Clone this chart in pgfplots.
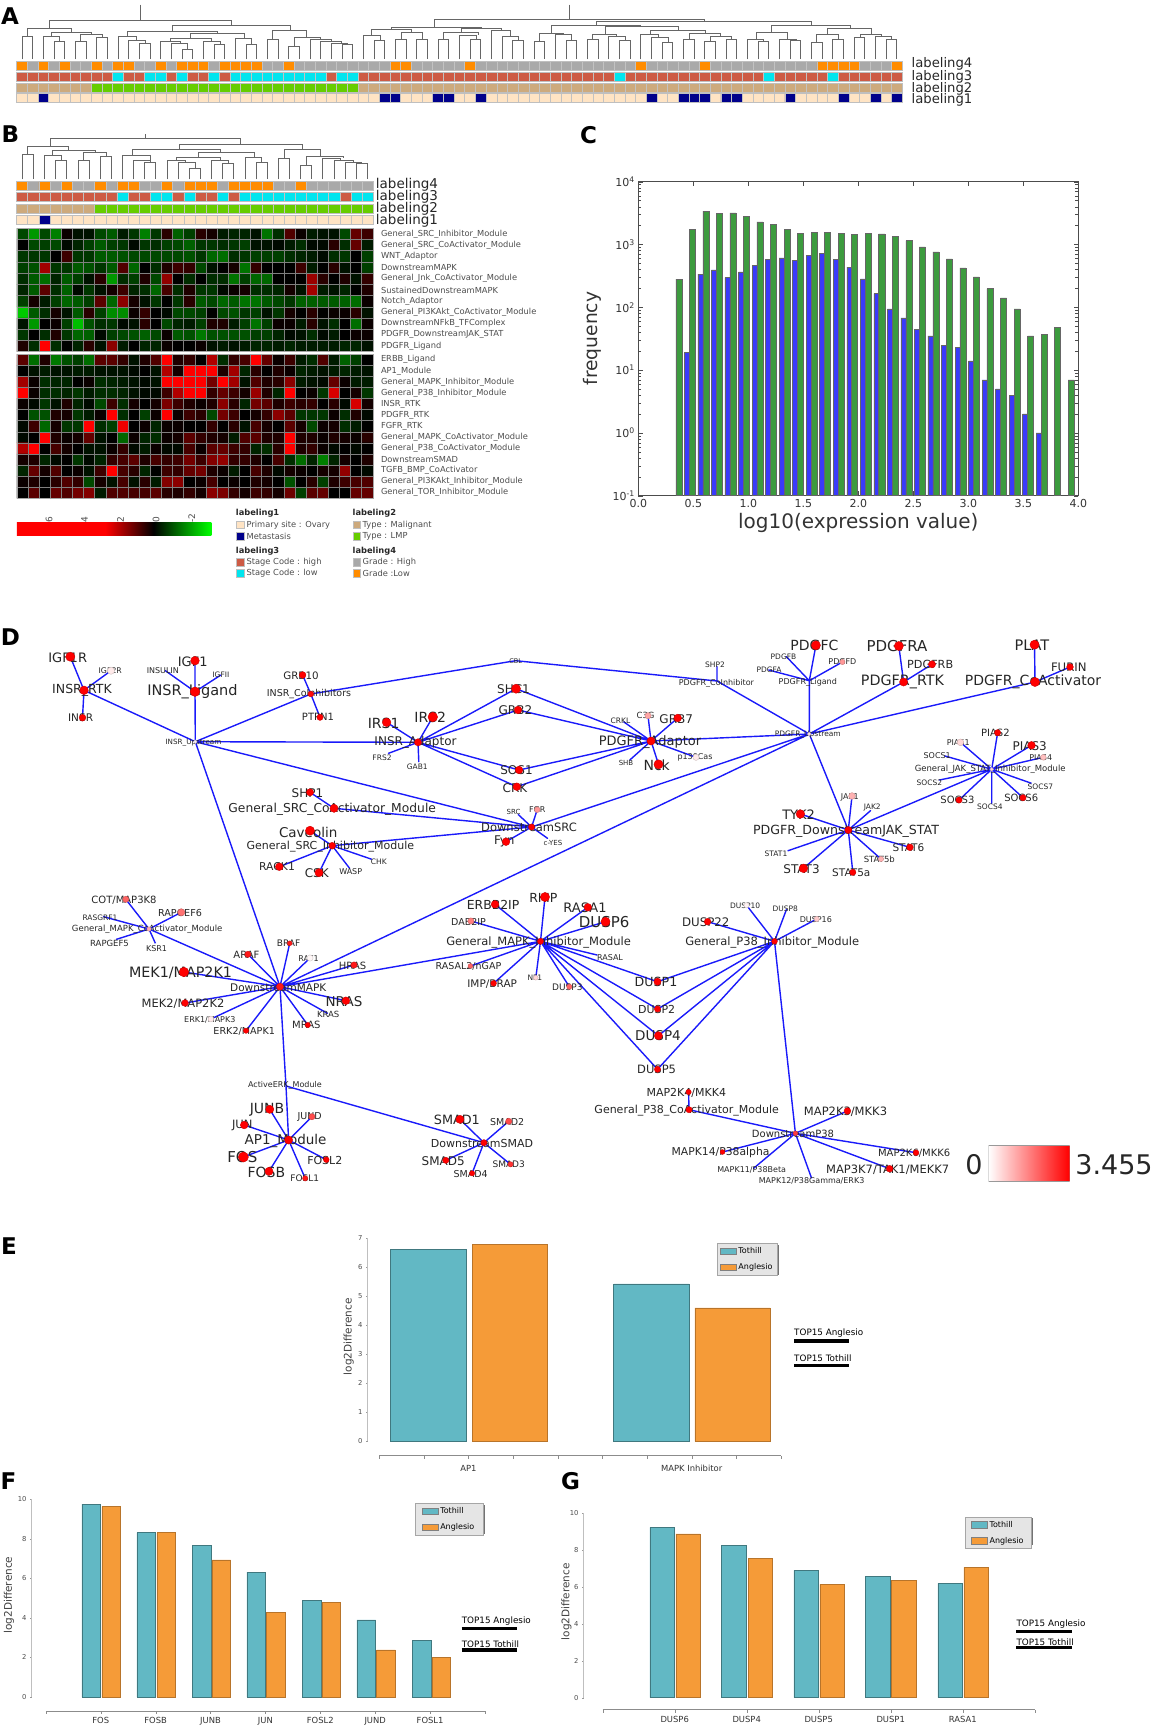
\documentclass[border=0pt]{standalone}
\usepackage{pgfplots}
\pgfplotsset{compat=1.18}
\usepackage{fontspec}
\setmainfont{DejaVu Sans}

\definecolor{cOrange}{RGB}{255,140,0}
\definecolor{cGrey}{RGB}{169,169,169}
\definecolor{cHigh}{RGB}{205,91,69}
\definecolor{cCyan}{RGB}{0,229,238}
\definecolor{cTan}{RGB}{205,170,125}
\definecolor{cGreen}{RGB}{102,205,0}
\definecolor{cBeige}{RGB}{255,228,196}
\definecolor{cNavy}{RGB}{0,0,139}
\definecolor{cTeal}{RGB}{98,184,196}
\definecolor{cAmber}{RGB}{245,155,56}
\definecolor{cBarG}{RGB}{60,155,62}
\definecolor{cBarB}{RGB}{58,58,250}
\definecolor{cEdge}{RGB}{26,26,250}

% a shading's middle 25bp-75bp is what lands on the path
\pgfdeclarehorizontalshading{heatbar}{100bp}{color(0bp)=(red); color(47.75bp)=(red); color(60.15bp)=(black); color(75bp)=(green); color(100bp)=(green)}

\newcommand{\lab}[4]{\node[font=\fontsize{#3}{#3}\selectfont,inner sep=0pt,text=black!85] at (axis cs:#1,#2) {#4};}
\newcommand{\letter}[3]{\node[font=\fontsize{23}{23}\selectfont\bfseries,inner sep=0pt] at (axis cs:#1,#2) {#3};}

\pgfplotsset{
  fullpage/.style={scale only axis,width=1158pt,height=1728pt,at={(0pt,0pt)},anchor=south west,
    hide axis,clip=false,y dir=reverse},
  catrow/.style={scale only axis,anchor=north west,axis on top,enlargelimits=false,
    xticklabels={},ytick=\empty,ymin=0,ymax=1,xmajorgrids,major tick length=0pt,
    major grid style={black!24,line width=.7pt},axis line style={black!25,line width=.8pt}},
  row83/.style={catrow,width=885.6pt,xmin=-.5,xmax=82.5,xtick={-.5,.5,...,82.5}},
  row32/.style={catrow,width=356.6pt,xmin=-.5,xmax=31.5,xtick={-.5,.5,...,31.5}},
  cell/.style={ybar,bar width=1,bar shift=0pt,draw=none,fill=#1},
  heat/.style={scale only axis,anchor=north west,axis on top,enlargelimits=false,width=356pt,
    xmin=-.5,xmax=31.5,y dir=reverse,xtick={-.5,.5,...,31.5},xticklabels={},xmajorgrids,yminorgrids,
    major tick length=0pt,minor tick length=0pt,
    major grid style={black!50,line width=.55pt},minor grid style={black!50,line width=.55pt},
    axis line style={black!35,line width=.6pt},yticklabel pos=right,
    yticklabel style={font=\fontsize{8.3}{8.3}\selectfont,text=black!70,inner sep=0pt,xshift=8pt,anchor=west},
    colormap={redgreen}{rgb255(0cm)=(0,215,0); rgb255(2cm)=(0,90,0); rgb255(3cm)=(0,0,0); rgb255(4cm)=(100,0,0); rgb255(6cm)=(255,0,0)},
    point meta min=-30,point meta max=30},
  heatcells/.style={matrix plot*,mesh/cols=32,point meta=explicit},
  barpanel/.style={scale only axis,anchor=south west,axis y line=left,hide x axis,axis line style={-,black!25},
    enlargelimits=false,ymin=0,tick style={black!40},tick label style={font=\fontsize{6.8}{6.8}\selectfont,text=black!70},
    /pgf/number format/assume math mode=true,major tick length=2pt,
    every axis y label/.style={rotate=90,anchor=center,font=\fontsize{10.5}{10.5}\selectfont,text=black!75},
    legend cell align=left,
    legend style={font=\fontsize{8}{8}\selectfont,fill=black!10,draw=black!35,anchor=north east,inner ysep=2pt,row sep=4.5pt}},
  shadowbox/.style={fill=black!55,draw=none,forget plot},
  tealbar/.style={ybar,bar shift=0pt,fill=cTeal,draw=cTeal!65!black,line width=.6pt,
    legend image code/.code={\draw[fill=cTeal,draw=black!50,line width=.6pt] (0pt,-3.2pt) rectangle (15.5pt,3.2pt);}},
  amberbar/.style={ybar,bar shift=0pt,fill=cAmber,draw=cAmber!75!black,line width=.6pt,
    legend image code/.code={\draw[fill=cAmber,draw=black!50,line width=.6pt] (0pt,-3.2pt) rectangle (15.5pt,3.2pt);}},
  baseline/.style={scale only axis,anchor=south west,height=1pt,hide y axis,axis x line=bottom,axis line style={-,black!45,line width=1pt},
    enlargelimits=false,tick style={black!45},xtick align=outside,major tick length=3pt,ymin=0,ymax=1,
    tick label style={font=\fontsize{8.4}{8.4}\selectfont,text=black!80}},
}

\begin{document}
\begin{tikzpicture}
\useasboundingbox (0pt,0pt) rectangle (1158pt,1728pt);

% --- A: colour bars (83 samples)
\begin{axis}[row83,at={(16.7pt,1666.7pt)},height=8.7pt]
\addplot[fill=cGrey,draw=none] coordinates {(-.5,0)(-.5,1)(82.5,1)(82.5,0)} --cycle;
\addplot[cell=cOrange] coordinates {(0,1)(2,1)(4,1)(7,1)(9,1)(10,1)(13,1)(15,1)(16,1)(17,1)(19,1)(20,1)(21,1)(22,1)(25,1)(35,1)(36,1)(42,1)(58,1)(64,1)(75,1)(76,1)(77,1)(78,1)(82,1)};
\end{axis}
\begin{axis}[row83,at={(16.7pt,1656pt)},height=9pt]
\addplot[fill=cHigh,draw=none] coordinates {(-.5,0)(-.5,1)(82.5,1)(82.5,0)} --cycle;
\addplot[cell=cCyan] coordinates {(9,1)(12,1)(13,1)(15,1)(18,1)(20,1)(21,1)(22,1)(23,1)(24,1)(25,1)(26,1)(27,1)(28,1)(30,1)(31,1)(56,1)(70,1)(76,1)};
\end{axis}
\begin{axis}[row83,at={(16.7pt,1645pt)},height=9pt]
\addplot[fill=cTan,draw=none] coordinates {(-.5,0)(-.5,1)(82.5,1)(82.5,0)} --cycle;
\addplot[fill=cGreen,draw=none] coordinates {(6.5,0)(6.5,1)(31.5,1)(31.5,0)} --cycle;
\end{axis}
\begin{axis}[row83,at={(16.7pt,1634.3pt)},height=9pt]
\addplot[fill=cBeige,draw=none] coordinates {(-.5,0)(-.5,1)(82.5,1)(82.5,0)} --cycle;
\addplot[cell=cNavy] coordinates {(2,1)(34,1)(35,1)(39,1)(40,1)(43,1)(59,1)(62,1)(63,1)(64,1)(66,1)(67,1)(72,1)(77,1)(80,1)(82,1)};
\end{axis}

% --- B: colour bars (32 samples)
\begin{axis}[row32,at={(16.7pt,1546.7pt)},height=9.2pt]
\addplot[fill=cGrey,draw=none] coordinates {(-.5,0)(-.5,1)(31.5,1)(31.5,0)} --cycle;
\addplot[cell=cOrange] coordinates {(0,1)(2,1)(4,1)(7,1)(9,1)(10,1)(13,1)(15,1)(16,1)(17,1)(19,1)(20,1)(21,1)(22,1)(25,1)};
\end{axis}
\begin{axis}[row32,at={(16.7pt,1535.3pt)},height=9.2pt]
\addplot[fill=cHigh,draw=none] coordinates {(-.5,0)(-.5,1)(31.5,1)(31.5,0)} --cycle;
\addplot[cell=cCyan] coordinates {(9,1)(12,1)(13,1)(15,1)(18,1)(20,1)(21,1)(22,1)(23,1)(24,1)(25,1)(26,1)(27,1)(28,1)(30,1)(31,1)};
\end{axis}
\begin{axis}[row32,at={(16.7pt,1524pt)},height=9pt]
\addplot[fill=cGreen,draw=none] coordinates {(-.5,0)(-.5,1)(31.5,1)(31.5,0)} --cycle;
\addplot[fill=cTan,draw=none] coordinates {(-.5,0)(-.5,1)(6.5,1)(6.5,0)} --cycle;
\end{axis}
\begin{axis}[row32,at={(16.7pt,1512.7pt)},height=9pt]
\addplot[fill=cBeige,draw=none] coordinates {(-.5,0)(-.5,1)(31.5,1)(31.5,0)} --cycle;
\addplot[cell=cNavy] coordinates {(2,1)};
\end{axis}

% --- B: heat map, colour level in tenths, read row by row
\begin{axis}[heat,at={(16.8pt,1499.7pt)},height=123.4pt,ymin=-.5,ymax=10.5,
  ytick={0,...,10},minor ytick={-.5,.5,...,10.5},
  yticklabels={General\_SRC\_Inhibitor\_Module,General\_SRC\_CoActivator\_Module,WNT\_Adaptor,DownstreamMAPK,General\_Jnk\_CoActivator\_Module,SustainedDownstreamMAPK,Notch\_Adaptor,General\_PI3KAkt\_CoActivator\_Module,DownstreamNFkB\_TFComplex,PDGFR\_DownstreamJAK\_STAT,PDGFR\_Ligand}]
\addplot[heatcells] table[header=false,row sep=\\,meta index=0,x expr={\coordindex-32*floor((\coordindex+.5)/32)},y expr={floor((\coordindex+.5)/32)}] {
-8\\-20\\-8\\-16\\1\\-2\\-2\\-8\\-10\\-3\\-6\\-16\\-6\\4\\-11\\-7\\4\\2\\-3\\-4\\-4\\-2\\-14\\-5\\8\\1\\-3\\-2\\-2\\-8\\10\\6\\
0\\-8\\-7\\-8\\-1\\-4\\-7\\-10\\-7\\-6\\-1\\-6\\-5\\-7\\-8\\-11\\-6\\-6\\-5\\-6\\-7\\-2\\-2\\-1\\-3\\-5\\-1\\-1\\4\\-5\\10\\-3\\
-6\\-6\\-6\\0\\6\\-6\\-6\\-10\\-10\\-9\\-8\\-8\\-8\\-8\\-8\\-9\\-6\\-12\\-13\\-5\\-6\\-7\\-7\\-7\\-5\\-4\\-3\\-1\\-5\\-6\\0\\-7\\
-7\\-9\\18\\-6\\-6\\-10\\-9\\-6\\-10\\8\\-12\\0\\-5\\3\\6\\5\\-8\\-2\\0\\2\\-14\\5\\0\\0\\0\\6\\-3\\0\\4\\-2\\0\\-7\\
-5\\-10\\-13\\-4\\-10\\-7\\-2\\4\\-20\\-5\\-7\\3\\-8\\16\\0\\-5\\0\\-5\\-5\\-14\\-7\\-12\\-12\\0\\0\\0\\17\\4\\0\\3\\-2\\5\\
-4\\-10\\9\\-5\\-11\\-1\\-6\\-2\\2\\6\\-4\\-5\\-12\\7\\-5\\3\\-6\\-6\\-1\\1\\2\\-5\\-5\\-4\\2\\-2\\18\\-3\\-2\\-4\\0\\3\\
-7\\2\\-3\\-7\\-12\\-10\\-7\\9\\-12\\15\\2\\-2\\-6\\0\\-6\\4\\-10\\-8\\-12\\-10\\-14\\-14\\-10\\-8\\-6\\-11\\-11\\-10\\-10\\-11\\-13\\1\\
-28\\-10\\-5\\2\\-2\\-10\\4\\-7\\-18\\-18\\1\\5\\0\\-1\\-8\\-8\\-7\\0\\-8\\-9\\-6\\-7\\-2\\-6\\2\\0\\4\\0\\1\\1\\4\\-2\\
-2\\-20\\0\\1\\-7\\-26\\-9\\-5\\-6\\-1\\-2\\4\\0\\-8\\-4\\-3\\-7\\3\\3\\-3\\-7\\-14\\-7\\1\\1\\-3\\4\\-2\\-5\\0\\-13\\1\\
-6\\0\\-5\\3\\-6\\-12\\-11\\-1\\-7\\-8\\-9\\-11\\-8\\1\\-10\\-9\\-15\\-9\\-9\\-9\\-9\\-7\\-7\\-4\\-1\\-2\\-5\\-1\\-3\\0\\1\\1\\
3\\-5\\30\\-5\\0\\-4\\4\\-2\\15\\-3\\0\\-4\\-4\\1\\0\\0\\1\\-2\\-3\\-2\\-3\\-4\\-4\\-3\\-4\\-3\\-3\\-3\\-3\\-4\\-4\\-2\\
};
\end{axis}
\begin{axis}[heat,at={(16.8pt,1373.7pt)},height=144pt,ymin=-.5,ymax=12.5,
  ytick={0,...,12},minor ytick={-.5,.5,...,12.5},
  yticklabels={ERBB\_Ligand,AP1\_Module,General\_MAPK\_Inhibitor\_Module,General\_P38\_Inhibitor\_Module,INSR\_RTK,PDGFR\_RTK,FGFR\_RTK,General\_MAPK\_CoActivator\_Module,General\_P38\_CoActivator\_Module,DownstreamSMAD,TGFB\_BMP\_CoActivator,General\_PI3KAkt\_Inhibitor\_Module,General\_TOR\_Inhibitor\_Module}]
\addplot[heatcells] table[header=false,row sep=\\,meta index=0,x expr={\coordindex-32*floor((\coordindex+.5)/32)},y expr={floor((\coordindex+.5)/32)}] {
9\\-13\\3\\-15\\-9\\-7\\-13\\9\\9\\5\\-2\\3\\8\\30\\3\\5\\0\\20\\-5\\5\\7\\30\\10\\1\\6\\-3\\-5\\8\\-3\\-11\\-7\\0\\
0\\-2\\-3\\-2\\-2\\-3\\-3\\-2\\-2\\-2\\-1\\0\\-2\\20\\2\\30\\30\\30\\3\\18\\-4\\4\\0\\3\\1\\-4\\-3\\-2\\-3\\-4\\-3\\-2\\
18\\1\\-5\\-4\\-4\\0\\1\\-5\\-4\\-3\\-2\\-1\\-2\\30\\30\\30\\30\\12\\30\\18\\-2\\8\\3\\4\\15\\-3\\-2\\-1\\10\\1\\-3\\-3\\
30\\1\\-5\\-5\\-4\\-6\\-3\\-5\\-5\\-4\\-2\\-1\\-1\\6\\20\\30\\30\\5\\10\\6\\2\\17\\3\\-4\\30\\0\\1\\-6\\25\\0\\2\\-6\\
1\\-1\\-6\\-2\\3\\-4\\-1\\-8\\6\\-5\\2\\0\\2\\13\\6\\3\\1\\3\\15\\4\\-4\\12\\9\\3\\6\\4\\5\\0\\4\\-1\\25\\2\\
0\\-9\\-9\\3\\2\\-6\\-3\\1\\30\\-5\\0\\-7\\1\\30\\1\\6\\4\\-8\\12\\6\\0\\2\\5\\15\\9\\-6\\-6\\-6\\1\\-5\\3\\-1\\
-1\\6\\-12\\2\\-6\\-6\\30\\-5\\-7\\28\\0\\1\\-4\\1\\1\\0\\0\\5\\0\\4\\-2\\7\\2\\0\\9\\2\\-8\\1\\2\\-5\\-3\\0\\
-1\\0\\30\\3\\1\\2\\10\\-2\\0\\-12\\1\\-4\\-5\\1\\2\\9\\5\\3\\2\\-3\\8\\9\\3\\3\\30\\3\\3\\1\\3\\2\\1\\4\\
20\\30\\0\\7\\2\\0\\-2\\-2\\1\\5\\-1\\-3\\1\\-1\\-1\\7\\1\\9\\10\\6\\5\\-4\\-5\\4\\30\\3\\5\\1\\-1\\0\\-1\\0\\
2\\3\\-4\\-1\\0\\-6\\-1\\-4\\5\\7\\9\\3\\7\\5\\6\\12\\6\\14\\16\\5\\5\\3\\0\\7\\-5\\-13\\-4\\-16\\-4\\2\\0\\3\\
-4\\10\\2\\8\\0\\1\\-2\\6\\30\\7\\4\\-4\\0\\6\\5\\10\\12\\3\\1\\-3\\0\\7\\3\\-1\\2\\1\\0\\2\\2\\16\\0\\-1\\
1\\3\\0\\4\\8\\5\\-8\\2\\-2\\7\\-2\\4\\-3\\14\\15\\0\\1\\7\\0\\1\\0\\3\\2\\0\\-9\\0\\4\\-7\\3\\6\\7\\8\\
0\\9\\0\\10\\8\\12\\14\\-3\\8\\8\\7\\7\\9\\4\\3\\5\\2\\15\\13\\5\\2\\6\\5\\2\\11\\-7\\9\\10\\0\\0\\10\\10\\
};
\end{axis}

% --- B: colour key
\begin{axis}[scale only axis,anchor=south west,at={(16.8pt,1192pt)},width=194.6pt,height=13.3pt,
  enlargelimits=false,x dir=reverse,xmin=-3.04,xmax=7.86,ymin=0,ymax=1,xtick={6,4,2,0,-2},ytick=\empty,
  xticklabel pos=top,major tick length=0pt,axis line style={draw=none},
  /pgf/number format/assume math mode=true,
  xticklabel style={rotate=90,anchor=west,inner sep=0pt,yshift=1pt,font=\fontsize{9}{9}\selectfont,text=black!70}]
\addplot[shading=heatbar,draw=none] coordinates {(7.86,0)(7.86,1)(-3.04,1)(-3.04,0)} --cycle;
\end{axis}

% --- C: histogram
\begin{axis}[scale only axis,anchor=south west,at={(638.3pt,1232.3pt)},width=440pt,height=314pt,
  ymode=log,log origin=infty,xmin=0,xmax=4,ymin=.1,ymax=10000,
  xtick={0,.5,...,4},ytick={.1,1,10,100,1000,10000},tick align=inside,
  /pgf/number format/assume math mode=true,
  xticklabel style={/pgf/number format/.cd,fixed,fixed zerofill,precision=1},
  log number format basis/.code 2 args={#1\textsuperscript{\pgfmathprintnumber{#2}}},
  tick label style={font=\fontsize{11}{11}\selectfont,text=black!80},
  axis line style={black!70,line width=.8pt},tick style={black!70},
  every axis x label/.style={at={(axis description cs:.5,-.088)},anchor=center,font=\fontsize{20}{20}\selectfont,text=black!80},
  every axis y label/.style={at={(axis description cs:-.105,.5)},rotate=90,anchor=center,font=\fontsize{18.7}{18.7}\selectfont,text=black!80},
  xlabel={log10(expression value)},ylabel={frequency}]
\addplot[ybar,bar shift=0pt,bar width=.046,fill=cBarB,draw=black!60,line width=.5pt] coordinates {
(.442,19)(.565,336)(.688,394)(.811,297)(.934,366)(1.057,468)(1.180,575)(1.303,612)(1.426,562)(1.549,675)(1.672,726)(1.795,575)(1.918,435)(2.041,283)(2.164,165)(2.287,94)(2.410,68)(2.533,45)(2.656,35)(2.779,25)(2.902,23)(3.025,14)(3.148,7)(3.271,5)(3.394,4)(3.517,2)(3.640,1)};
\addplot[ybar,bar shift=0pt,bar width=.055,fill=cBarG,draw=black!60,line width=.5pt] coordinates {
(.368,280)(.491,1750)(.614,3390)(.737,3150)(.860,3185)(.983,2820)(1.106,2290)(1.229,2075)(1.352,1730)(1.475,1515)(1.598,1567)(1.721,1567)(1.844,1515)(1.967,1456)(2.090,1515)(2.213,1475)(2.336,1337)(2.459,1155)(2.582,916)(2.705,762)(2.828,590)(2.951,424)(3.074,305)(3.197,199)(3.320,141)(3.443,94)(3.566,35)(3.689,37)(3.812,48)(3.935,7)};
\end{axis}

% --- D: key
\begin{axis}[scale only axis,anchor=south west,at={(988.5pt,546.3pt)},width=80.8pt,height=36pt,hide axis,
  enlargelimits=false,xmin=0,xmax=3.455,ymin=0,ymax=1]
\addplot[left color=white,right color=red,draw=black!40,line width=.7pt] coordinates {(0,0)(0,1)(3.455,1)(3.455,0)} --cycle;
\end{axis}

% --- E
\begin{axis}[barpanel,at={(367pt,286.7pt)},width=414pt,height=203pt,xmin=367,xmax=781,ymax=7,
  ytick={0,...,7},ylabel={log2Difference},
  every axis y label/.append style={at={(axis description cs:-.0444,.515)}},
  legend style={at={(axis cs:777.7,6.83)},inner xsep=3pt}]
\addplot[shadowbox] coordinates {(719.5,6.77)(779.2,6.77)(779.2,5.73)(719.5,5.73)} --cycle;
\addplot[tealbar,bar width=75.3] coordinates {(428.4,6.63)(651.4,5.43)};
\addplot[amberbar,bar width=75.3] coordinates {(509.7,6.8)(732.5,4.6)};
\legend{Tothill,Anglesio}
\end{axis}
\begin{axis}[baseline,at={(379pt,272pt)},width=402pt,xmin=0,xmax=9,xtick={0,...,9},
  xticklabel style={yshift=-2.5pt},
  xticklabels={,,AP1,,,,,MAPK Inhibitor,,}]
\end{axis}

% --- F
\begin{axis}[barpanel,at={(31pt,31pt)},width=454pt,height=197.7pt,xmin=31,xmax=485,ymax=10,
  ytick={0,2,...,10},ylabel={log2Difference},
  every axis y label/.append style={at={(axis description cs:-.0485,.516)}},
  legend style={at={(axis cs:483,9.8)},inner xsep=6.5pt}]
\addplot[shadowbox] coordinates {(418,9.71)(484.5,9.71)(484.5,8.23)(418,8.23)} --cycle;
\addplot[tealbar,bar width=18.8] coordinates {(91.2,9.76)(146.2,8.31)(201.6,7.67)(256.3,6.32)(311.7,4.9)(366.3,3.9)(421.7,2.88)};
\addplot[amberbar,bar width=18.8] coordinates {(111.2,9.63)(166.2,8.31)(221.2,6.93)(275.8,4.28)(331.2,4.79)(385.9,2.38)(441.3,2)};
\legend{Tothill,Anglesio}
\end{axis}
\begin{axis}[baseline,at={(45.8pt,17pt)},width=439.2pt,xmin=0,xmax=8,xtick={0,...,8},
  xticklabels={,FOS,FOSB,JUNB,JUN,FOSL2,JUND,FOSL1,}]
\end{axis}

% --- G
\begin{axis}[barpanel,at={(583pt,30.3pt)},width=451.7pt,height=185pt,xmin=583,xmax=1034.7,ymax=10,
  ytick={0,2,...,10},ylabel={log2Difference},
  every axis y label/.append style={at={(axis description cs:-.0365,.519)}},
  legend style={at={(axis cs:1031.8,9.78)},inner xsep=6pt}]
\addplot[shadowbox] coordinates {(968.3,9.69)(1033.3,9.69)(1033.3,8.23)(968.3,8.23)} --cycle;
\addplot[tealbar,bar width=24.4] coordinates {(662.1,9.2)(733.7,8.22)(806.1,6.88)(877.8,6.54)(950.1,6.18)};
\addplot[amberbar,bar width=24.4] coordinates {(688,8.85)(760.3,7.53)(832,6.13)(903.6,6.36)(976,7.05)};
\legend{Tothill,Anglesio}
\end{axis}
\begin{axis}[baseline,at={(602.7pt,18pt)},width=432pt,xmin=0,xmax=6,xtick={0,...,6},
  xticklabels={,DUSP6,DUSP4,DUSP5,DUSP1,RASA1,}]
\end{axis}

% --- A and B trees, in units of a third of a pixel
\begin{axis}[fullpage,xmin=0,xmax=3474,ymin=0,ymax=5184,unbounded coords=jump]
\addplot[black!60,line width=.9pt] coordinates {
(421,14)(421,62)(nan,nan)(148,86)(148,62)(693,62)(693,76)(nan,nan)
(82,110)(82,86)(215,86)(215,98)(nan,nan)(66,178)(66,110)(98,110)(98,178)(nan,nan)
(155,108)(155,98)(275,98)(275,103)(nan,nan)(130,178)(130,108)(178,108)(178,125)(nan,nan)(162,178)(162,125)(194,125)(194,178)(nan,nan)
(242,125)(242,103)(307,103)(307,113)(nan,nan)(226,178)(226,125)(258,125)(258,178)(nan,nan)(290,178)(290,113)(322,113)(322,178)(nan,nan)
(517,94)(517,76)(870,76)(870,92)(nan,nan)(382,110)(382,94)(652,94)(652,100)(nan,nan)
(354,178)(354,110)(410,110)(410,122)(nan,nan)(386,178)(386,122)(435,122)(435,130)(nan,nan)(418,178)(418,130)(450,130)(450,178)(nan,nan)
(571,116)(571,100)(732,100)(732,115)(nan,nan)(510,125)(510,116)(635,116)(635,125)(nan,nan)
(482,178)(482,125)(540,125)(540,131)(nan,nan)(514,178)(514,131)(562,131)(562,147)(nan,nan)(546,178)(546,147)(578,147)(578,178)(nan,nan)
(610,178)(610,125)(660,125)(660,132)(nan,nan)(642,178)(642,132)(674,132)(674,178)(nan,nan)
(706,178)(706,115)(755,115)(755,132)(nan,nan)(738,178)(738,132)(770,132)(770,178)(nan,nan)
(818,118)(818,92)(920,92)(920,112)(nan,nan)(802,178)(802,118)(834,118)(834,178)(nan,nan)
(882,138)(882,112)(960,112)(960,118)(nan,nan)(866,178)(866,138)(898,138)(898,178)(nan,nan)
(930,178)(930,118)(995,118)(995,125)(nan,nan)(962,178)(962,125)(1025,125)(1025,130)(nan,nan)
(994,178)(994,130)(1042,130)(1042,133)(nan,nan)(1026,178)(1026,133)(1058,133)(1058,178)(nan,nan)
(1707,14)(1707,58)(nan,nan)(1304,82)(1304,58)(2112,58)(2112,64)(nan,nan)
(1175,88)(1175,82)(1445,82)(1445,86)(nan,nan)(1115,105)(1115,88)(1235,88)(1235,96)(nan,nan)
(1090,178)(1090,105)(1140,105)(1140,122)(nan,nan)(1122,178)(1122,122)(1154,122)(1154,178)(nan,nan)
(1205,118)(1205,96)(1267,96)(1267,118)(nan,nan)(1186,178)(1186,118)(1218,118)(1218,178)(nan,nan)(1250,178)(1250,118)(1282,118)(1282,178)(nan,nan)
(1385,98)(1385,86)(1505,86)(1505,90)(nan,nan)(1330,118)(1330,98)(1435,98)(1435,105)(nan,nan)
(1314,178)(1314,118)(1346,118)(1346,178)(nan,nan)(1378,178)(1378,105)(1430,105)(1430,118)(nan,nan)(1410,178)(1410,118)(1442,118)(1442,178)(nan,nan)
(1475,178)(1475,90)(1530,90)(1530,110)(nan,nan)(1506,178)(1506,110)(1555,110)(1555,122)(nan,nan)(1538,178)(1538,122)(1570,122)(1570,178)(nan,nan)
(1790,76)(1790,64)(2433,64)(2433,76)(nan,nan)(1655,100)(1655,76)(1920,76)(1920,80)(nan,nan)
(1617,123)(1617,100)(1690,100)(1690,104)(nan,nan)(1602,178)(1602,123)(1634,123)(1634,178)(nan,nan)
(1666,178)(1666,104)(1715,104)(1715,120)(nan,nan)(1698,178)(1698,120)(1730,120)(1730,178)(nan,nan)
(1815,102)(1815,80)(2035,80)(2035,90)(nan,nan)(1778,118)(1778,102)(1850,102)(1850,108)(nan,nan)
(1762,178)(1762,118)(1794,118)(1794,178)(nan,nan)(1826,178)(1826,108)(1875,108)(1875,122)(nan,nan)(1858,178)(1858,122)(1890,122)(1890,178)(nan,nan)
(1950,104)(1950,90)(2115,90)(2115,100)(nan,nan)(1922,178)(1922,104)(1975,104)(1975,113)(nan,nan)
(1954,178)(1954,113)(2005,113)(2005,127)(nan,nan)(1986,178)(1986,127)(2018,127)(2018,178)(nan,nan)
(2067,118)(2067,100)(2160,100)(2160,108)(nan,nan)(2050,178)(2050,118)(2082,118)(2082,178)(nan,nan)
(2130,124)(2130,108)(2195,108)(2195,117)(nan,nan)(2114,178)(2114,124)(2146,124)(2146,178)(nan,nan)(2178,178)(2178,117)(2210,117)(2210,178)(nan,nan)
(2315,98)(2315,76)(2550,76)(2550,86)(nan,nan)(2268,117)(2268,98)(2362,98)(2362,117)(nan,nan)
(2242,178)(2242,117)(2290,117)(2290,125)(nan,nan)(2274,178)(2274,125)(2306,125)(2306,178)(nan,nan)
(2338,178)(2338,117)(2388,117)(2388,122)(nan,nan)(2370,178)(2370,122)(2402,122)(2402,178)(nan,nan)
(2482,104)(2482,86)(2615,86)(2615,104)(nan,nan)(2450,128)(2450,104)(2515,104)(2515,117)(nan,nan)
(2434,178)(2434,128)(2466,128)(2466,178)(nan,nan)(2498,178)(2498,117)(2530,117)(2530,178)(nan,nan)
(2580,111)(2580,104)(2645,104)(2645,108)(nan,nan)(2562,178)(2562,111)(2594,111)(2594,178)(nan,nan)
(2626,178)(2626,108)(2675,108)(2675,118)(nan,nan)(2658,178)(2658,118)(2690,118)(2690,178)
};
\addplot[black!60,line width=.9pt] coordinates {
(437,402)(437,416)(nan,nan)(151,438)(151,416)(722,416)(722,432)(nan,nan)
(83,464)(83,438)(205,438)(205,452)(nan,nan)(67,538)(67,464)(100,464)(100,538)(nan,nan)
(158,465)(158,452)(285,452)(285,458)(nan,nan)(133.5,538)(133.5,465)(183,465)(183,482)(nan,nan)(167,538)(167,482)(200,482)(200,538)(nan,nan)
(250,482)(250,458)(318,458)(318,470)(nan,nan)(234,538)(234,482)(267,482)(267,538)(nan,nan)(300.5,538)(300.5,470)(334,470)(334,538)(nan,nan)
(537,448)(537,432)(908,432)(908,448)(nan,nan)(397,465)(397,448)(662,448)(662,458)(nan,nan)
(367,538)(367,465)(450,465)(450,480)(nan,nan)(401,538)(401,480)(450,480)(450,488)(nan,nan)(434,538)(434,488)(467.5,488)(467.5,538)(nan,nan)
(595,473)(595,458)(762,458)(762,473)(nan,nan)(530,482)(530,473)(660,473)(660,480)(nan,nan)
(501,538)(501,482)(555,482)(555,488)(nan,nan)(534,538)(534,488)(585,488)(585,505)(nan,nan)(567.7,538)(567.7,505)(601,505)(601,538)(nan,nan)
(634.5,538)(634.5,480)(685,480)(685,490)(nan,nan)(668,538)(668,490)(701,490)(701,538)(nan,nan)
(735,538)(735,473)(785,473)(785,488)(nan,nan)(768,538)(768,488)(801.5,488)(801.5,538)(nan,nan)
(853,475)(853,448)(960,448)(960,470)(nan,nan)(835,538)(835,475)(868,475)(868,538)(nan,nan)
(920,497)(920,470)(1030,470)(1030,475)(nan,nan)(902,538)(902,497)(935,497)(935,538)(nan,nan)
(968.5,538)(968.5,475)(1020,475)(1020,480)(nan,nan)(1002,538)(1002,480)(1060,480)(1060,488)(nan,nan)
(1035,538)(1035,488)(1085,488)(1085,490)(nan,nan)(1069,538)(1069,490)(1102,490)(1102,538)
};
\end{axis}

% --- labels, legends and the network of D, in pixels
\begin{axis}[fullpage,xmin=0,xmax=1158,ymin=0,ymax=1728,unbounded coords=jump,
  colormap={whitered}{rgb255(0cm)=(255,255,255); rgb255(1cm)=(255,0,0)},point meta min=0,point meta max=1]
\letter{10}{16}{A}
\letter{10.5}{134.5}{B}
\letter{588.5}{135}{C}
\letter{10.5}{637.5}{D}
\letter{9}{1246.5}{E}
\letter{8.5}{1481.5}{F}
\letter{570.5}{1481.5}{G}

% A, B row names
\lab{942}{64}{13.2}{labeling4}
\lab{942}{76.7}{13.2}{labeling3}
\lab{942}{88.7}{13.2}{labeling2}
\lab{942}{100}{13.2}{labeling1}
\lab{407}{185}{13.5}{labeling4}
\lab{407}{197}{13.5}{labeling3}
\lab{407}{208.7}{13.5}{labeling2}
\lab{407}{220.7}{13.5}{labeling1}

% B legend
\addplot[only marks,mark=square*,mark size=3.7,mark options={fill=cBeige,draw=black!25}] coordinates {(240,524.7)};
\addplot[only marks,mark=square*,mark size=3.7,mark options={fill=cNavy,draw=black!25}] coordinates {(240,536.3)};
\addplot[only marks,mark=square*,mark size=3.7,mark options={fill=cTan,draw=black!25}] coordinates {(356.5,524.7)};
\addplot[only marks,mark=square*,mark size=3.7,mark options={fill=cGreen,draw=black!25}] coordinates {(356.5,536.3)};
\addplot[only marks,mark=square*,mark size=3.7,mark options={fill=cHigh,draw=black!25}] coordinates {(240,562.3)};
\addplot[only marks,mark=square*,mark size=3.7,mark options={fill=cCyan,draw=black!25}] coordinates {(240,573.3)};
\addplot[only marks,mark=square*,mark size=3.7,mark options={fill=cGrey,draw=black!25}] coordinates {(356.5,562.3)};
\addplot[only marks,mark=square*,mark size=3.7,mark options={fill=cOrange,draw=black!25}] coordinates {(356.5,573.3)};
\newcommand{\keytxt}[3]{\node[font=\fontsize{8.3}{8.3}\selectfont,inner sep=0pt,anchor=west,text=black!70] at (axis cs:#1,#2) {#3};}
\newcommand{\keyhead}[3]{\node[font=\fontsize{8.3}{8.3}\selectfont\bfseries,inner sep=0pt,anchor=west,text=black!85] at (axis cs:#1,#2) {#3};}
\keyhead{235.7}{513.7}{labeling1}
\keytxt{246.4}{525}{Primary site : Ovary}
\keytxt{246.4}{536.3}{Metastasis}
\keyhead{352.5}{513.7}{labeling2}
\keytxt{362.5}{525}{Type : Malignant}
\keytxt{362.5}{536.3}{Type : LMP}
\keyhead{235.7}{551}{labeling3}
\keytxt{246.4}{562.3}{Stage Code : high}
\keytxt{246.4}{573.3}{Stage Code : low}
\keyhead{352.5}{551}{labeling4}
\keytxt{362.5}{562.3}{Grade : High}
\keytxt{362.5}{573.3}{Grade :Low}

% D key text
\lab{974}{1165}{27}{0}
\lab{1114}{1165}{27}{3.455}

% E, F, G notes
\addplot[black,line width=3.4pt] coordinates {(794,1341)(849.3,1341)(nan,nan)(794,1365.5)(849.3,1365.5)
  (nan,nan)(461.6,1628.3)(517,1628.3)(nan,nan)(461.6,1650)(517,1650)
  (nan,nan)(1016.3,1631.2)(1071.6,1631.2)(nan,nan)(1016.3,1647.7)(1071.6,1647.7)};
\newcommand{\note}[3]{\node[font=\fontsize{8.8}{8.8}\selectfont,inner sep=0pt,anchor=west] at (axis cs:#1,#2) {#3};}
\note{794}{1333.3}{TOP15 Anglesio}
\note{794}{1358.3}{TOP15 Tothill}
\note{461.6}{1621}{TOP15 Anglesio}
\note{461.6}{1643.7}{TOP15 Tothill}
\note{1016.3}{1624.3}{TOP15 Anglesio}
\note{1016.3}{1641.7}{TOP15 Tothill}

% D edges: each star runs out from its hub and back
\addplot[cEdge,line width=1.4pt,line join=round] coordinates {
(84,690.3)(195.3,741.7)(195,691.7)(195.3,741.7)(310.8,694)(195.3,741.7)(418,742.3)(195.3,741.7)(531.6,827)(195.3,741.7)(280,986.7)(nan,nan)
(70.3,656.7)(84,690.3)(111,670.7)(84,690.3)(82.5,717.7)(nan,nan)
(195,660.7)(195,691.7)(165.4,670.7)(195,691.7)(220.9,675)(nan,nan)
(302.6,675)(310.8,694)(320,717.3)(310.8,694)(515.7,660.7)(717,681)(717,666.7)(717,681)(809.3,734)(nan,nan)
(386.6,722.3)(418,742.3)(432.8,717)(418,742.3)(388.5,753.3)(418,742.3)(418.8,761.7)(418,742.3)(516,688.7)(651,741)(518,710)(418,742.3)(519,770)(651,741)(516.8,786.7)(418,742.3)(nan,nan)
(623.5,721.7)(651,741)(648,715.7)(651,741)(677.7,718)(651,741)(629.8,760)(651,741)(658.5,764.3)(651,741)(696,757.3)(651,741)(809.3,734)(nan,nan)
(809.3,680.7)(809.3,734)(903.6,682)(809.3,734)(1035,682)(809.3,734)(848.3,830)(809.3,734)(531.6,827)(809.3,734)(280,986.7)(nan,nan)
(815.9,645.3)(809.3,680.7)(786.4,656.7)(809.3,680.7)(768.7,670)(809.3,680.7)(842.4,662)(nan,nan)
(898.8,646)(903.6,682)(932,664.3)(nan,nan)(1034.5,644.7)(1035,682)(1070,667)(nan,nan)
(852,796)(848.3,830)(870.5,810.7)(848.3,830)(800.4,814)(848.3,830)(909.9,847.3)(848.3,830)(881,859)(848.3,830)(852.8,872.3)(848.3,830)(803.4,868.3)(848.3,830)(788,850.7)(848.3,830)(991.7,769.3)(nan,nan)
(960.4,742.3)(991.7,769.3)(997.6,732.7)(991.7,769.3)(1031.5,745.3)(991.7,769.3)(1043.3,757.3)(991.7,769.3)(945,756)(991.7,769.3)(939.4,780)(991.7,769.3)(959,800)(991.7,769.3)(991.7,803.3)(991.7,769.3)(1023,797.7)(991.7,769.3)(1031.5,783.3)(nan,nan)
(518,814.3)(531.6,827)(537.2,809.7)(531.6,827)(506,841.7)(531.6,827)(547.5,838.3)(531.6,827)(334,808.3)(310,792.3)(nan,nan)(531.6,827)(332.2,845.7)(nan,nan)
(310,830.7)(332.2,845.7)(279.3,866.7)(332.2,845.7)(319,872.7)(332.2,845.7)(349.6,868.3)(332.2,845.7)(371.8,859.3)(nan,nan)
(149,929)(280,986.7)(247.9,954.3)(280,986.7)(289.7,943.3)(280,986.7)(310,958)(280,986.7)(354,965)(280,986.7)(183.9,972)(280,986.7)(185,1003)(280,986.7)(210.9,1019)(280,986.7)(246,1030.7)(280,986.7)(307.8,1025)(280,986.7)(327.4,1013.3)(280,986.7)(345.9,1000.7)(280,986.7)(286,1086)(nan,nan)(280,986.7)(540.5,941.3)(nan,nan)
(125.8,899.3)(149,929)(181.3,912.3)(149,929)(103.6,916.7)(149,929)(116.5,939.3)(149,929)(155.4,943.3)(nan,nan)
(288.6,1140)(286,1086)(483.9,1142.7)(nan,nan)
(269.7,1109.3)(288.6,1140)(244.2,1125)(288.6,1140)(311.9,1116.7)(288.6,1140)(243.4,1157)(288.6,1140)(269,1171.3)(288.6,1140)(305.2,1178.3)(288.6,1140)(326.3,1159.7)(nan,nan)
(459.9,1119.3)(483.9,1142.7)(508.7,1121.3)(483.9,1142.7)(510.5,1164.3)(483.9,1142.7)(472.1,1173.3)(483.9,1142.7)(445.8,1160.3)(nan,nan)
(545,897)(540.5,941.3)(495,904.3)(540.5,941.3)(587.8,907.3)(540.5,941.3)(605.5,921.7)(540.5,941.3)(470.9,921)(540.5,941.3)(597,955)(540.5,941.3)(470.4,966)(540.5,941.3)(493.6,983.3)(540.5,941.3)(535.8,977.7)(540.5,941.3)(569.3,986.7)(nan,nan)
(540.5,941.3)(657.5,981.7)(774.5,941.3)(657.5,1009)(540.5,941.3)(658.4,1035.7)(774.5,941.3)(657.5,1069.3)(540.5,941.3)(nan,nan)
(707.6,921.7)(774.5,941.3)(746.6,905.3)(774.5,941.3)(786.5,909.3)(774.5,941.3)(816.7,919)(774.5,941.3)(795.4,1133.3)(nan,nan)
(689,1109.7)(795.4,1133.3)(847.4,1111)(795.4,1133.3)(916,1152.7)(795.4,1133.3)(889.6,1168.7)(795.4,1133.3)(722.5,1152)(795.4,1133.3)(753.6,1168.3)(795.4,1133.3)(811.6,1178.3)(nan,nan)
(689,1109.7)(688.6,1092)
};

% D nodes: x, y, radius, expression level
\addplot[scatter,only marks,mark=*,point meta=\thisrow{c},
  visualization depends on={\thisrow{r}\as\rr},
  scatter/@pre marker code/.append style={/tikz/mark size=1.2*\rr}] table {
x y r c
70.3 656.7 3.8 1
111 670.7 3 .08
84 690.3 3.6 1
82.5 717.7 2.8 1
195 691.7 4 1
195 660.7 3.6 1
195.3 741.7 1.5 .05
302.6 675 2.8 1
320 717.3 2.6 1
310.8 694 2.4 .95
386.6 722.3 3.6 1
432.8 717 4 1
418 742.3 3 1
516 688.7 3.8 1
518 710 3.2 1
519 770 3.2 1
516.8 786.7 3.2 1
651 741 3.4 1
648 715.7 2.6 .35
677.7 718 3.2 1
658.5 764.3 3.8 1
696 757.3 2.6 .08
310 792.3 3 1
334 808.3 3.4 1
310 830.7 3.8 1
332.2 845.7 2.8 1
279.3 866.7 3.2 1
319 872.7 3.4 1
531.6 827 2.6 1
537.2 809.7 2.4 .4
506 841.7 3.2 1
815.9 645.3 3.8 1
898.8 646 3.8 1
932 664.3 3 1
1034.5 644.7 3.8 1
1070 667 2.8 1
903.6 682 3.4 1
1035 682 3.8 1
842.4 662 2.2 .4
809.3 734 1.6 .1
852 796 2.8 .3
800.4 814 3.6 1
848.3 830 3 1
909.9 847.3 2.8 1
881 859 2.2 .3
803.4 868.3 3.6 1
852.8 872.3 2.6 1
997.6 732.7 2.6 1
960.4 742.3 2.8 .15
1031.5 745.3 3.2 1
1043.3 757.3 2.4 .25
991.7 769.3 1.6 .15
959 800 2.6 1
1023 797.7 2.6 1
125.8 899.3 2.6 .6
181.3 912.3 3 .55
149 929 1.8 .3
247.9 954.3 2.6 .9
289.7 943.3 2 .9
310 958 2.6 .03
354 965 2.6 .9
183.9 972 4 1
185 1003 2.8 1
210.9 1019 2.4 .08
246 1030.7 2.2 1
280 986.7 3 .9
307.8 1025 2.2 1
345.9 1000.7 3.2 1
269.7 1109.3 3.4 1
244.2 1125 3.2 1
311.9 1116.7 2.6 .7
288.6 1140 3.4 1
243.4 1157 4.2 1
269 1171.3 3.4 1
305.2 1178.3 2.2 .9
326.3 1159.7 2.4 1
459.9 1119.3 3.4 1
483.9 1142.7 2.6 1
508.7 1121.3 2.6 .7
510.5 1164.3 2.2 .8
472.1 1173.3 2.2 1
445.8 1160.3 2.6 1
540.5 941.3 2.6 1
545 897 3.8 1
495 904.3 3.2 1
587.8 907.3 3.2 1
605.5 921.7 3.8 1
470.9 921 2.6 .5
470.4 966 2 .6
493.6 983.3 2.4 1
535.8 977.7 2 .15
569.3 986.7 2.2 .6
657.5 981.7 3 1
657.5 1009 2.6 1
658.4 1035.7 3.4 1
657.5 1069.3 2.6 1
774.5 941.3 2.4 1
707.6 921.7 2.8 1
746.6 905.3 2.2 .05
816.7 919 2.2 .2
795.4 1133.3 2 .75
689 1109.7 2.6 1
688.6 1092 2.2 1
847.4 1111 2.8 1
916 1152.7 2.4 1
889.6 1168.7 2.8 1
722.5 1152 2 1
};

% D node names
\lab{67.7}{657.3}{13}{IGF1R}
\lab{110.3}{670.3}{7.8}{IGF2R}
\lab{82}{690.7}{12.5}{INSR\_RTK}
\lab{80.6}{717.7}{10.5}{INSR}
\lab{192.7}{661.7}{13}{IGF1}
\lab{162.8}{670.3}{8}{INSULIN}
\lab{220.9}{675}{7.5}{IGFII}
\lab{192.4}{692}{14.5}{INSR\_Ligand}
\lab{193.5}{743}{7.2}{INSR\_Upstream}
\lab{301}{675.3}{10.3}{GRB10}
\lab{309}{694.3}{9.5}{INSR\_CoInhibitors}
\lab{318}{717.3}{10}{PTPN1}
\lab{515.7}{660.7}{6.5}{CBL}
\lab{383.6}{723}{14}{IRS1}
\lab{430.3}{717.3}{14}{IRS2}
\lab{415.5}{742.7}{12}{INSR\_Adaptor}
\lab{382}{757.7}{7.5}{FRS2}
\lab{417.3}{766.7}{7.5}{GAB1}
\lab{513.5}{689}{12}{SHC1}
\lab{515.4}{710.3}{12}{GRB2}
\lab{516.5}{770.3}{12}{SOS1}
\lab{515}{787.7}{12}{CRK}
\lab{307.4}{793}{12}{SHP1}
\lab{332.2}{809}{12.3}{General\_SRC\_CoActivator\_Module}
\lab{308.2}{832.3}{13.5}{Caveolin}
\lab{330.4}{846.3}{11}{General\_SRC\_Inhibitor\_Module}
\lab{277}{867}{10.8}{RACK1}
\lab{316.7}{873.3}{12}{CSK}
\lab{350.7}{871.3}{8}{WASP}
\lab{378.8}{862}{7.5}{CHK}
\lab{529}{827.3}{11.5}{DownstreamSRC}
\lab{513.5}{812}{7}{SRC}
\lab{537.2}{809.7}{8}{FGR}
\lab{504.3}{841.7}{12}{Fyn}
\lab{553}{843.3}{7}{c-YES}
\lab{715}{664.3}{7.5}{SHP2}
\lab{716.4}{683.7}{8}{PDGFR\_CoInhibitor}
\lab{807.8}{734.7}{7.5}{PDGFR\_Upstream}
\lab{814.4}{645.7}{14}{PDGFC}
\lab{897}{646.3}{15}{PDGFRA}
\lab{930.2}{664.3}{11.2}{PDGFRB}
\lab{1031.9}{645}{14.5}{PLAT}
\lab{1068.8}{667}{11.7}{FURIN}
\lab{1033}{682.3}{14}{PDGFR\_CoActivator}
\lab{902.5}{682.3}{14.3}{PDGFR\_RTK}
\lab{807.8}{682.7}{8}{PDGFR\_Ligand}
\lab{783.5}{656.7}{7.5}{PDGFB}
\lab{769}{670}{7.5}{PDGFA}
\lab{842.4}{662}{8}{PDGFD}
\lab{650}{741.7}{13}{PDGFR\_Adaptor}
\lab{620.5}{720.7}{7.5}{CRKL}
\lab{645.6}{715.7}{8.5}{C3G}
\lab{676.2}{718.7}{12}{GRB7}
\lab{626}{763.3}{7}{SHB}
\lab{656.7}{765}{14}{Nck}
\lab{695}{757.3}{8}{p130Cas}
\lab{849.8}{797}{8}{JAK1}
\lab{872.3}{807.3}{7.5}{JAK2}
\lab{798.6}{814.3}{13}{TYK2}
\lab{846}{831}{12.6}{PDGFR\_DownstreamJAK\_STAT}
\lab{908.4}{847.7}{10.5}{STAT6}
\lab{879.3}{859.3}{8.5}{STAT5b}
\lab{776}{853.7}{7.5}{STAT1}
\lab{801.5}{869}{12}{STAT3}
\lab{851.3}{872.7}{10.5}{STAT5a}
\lab{990.2}{769.3}{8.5}{General\_JAK\_STAT\_Inhibitor\_Module}
\lab{995.4}{733.3}{10}{PIAS2}
\lab{958.2}{742.7}{8}{PIAS1}
\lab{1029.7}{746}{12}{PIAS3}
\lab{1040.7}{757.7}{8}{PIAS4}
\lab{937.2}{755.7}{8}{SOCS1}
\lab{929.4}{782.7}{7.5}{SOCS2}
\lab{957.4}{800.3}{10}{SOCS3}
\lab{989.9}{807}{7.5}{SOCS4}
\lab{1021.2}{798.3}{10}{SOCS6}
\lab{1040.4}{786.3}{7.5}{SOCS7}
\lab{124}{900.7}{10}{COT/MAP3K8}
\lab{180}{912.7}{9.6}{RAPGEF6}
\lab{100}{917.3}{7.5}{RASGRF1}
\lab{147.2}{929.3}{8.5}{General\_MAPK\_CoActivator\_Module}
\lab{109.5}{943}{8.5}{RAPGEF5}
\lab{156.5}{948.7}{8}{KSR1}
\lab{278.2}{987.3}{10.5}{DownstreamMAPK}
\lab{246.4}{954.7}{10}{ARAF}
\lab{288.6}{943.7}{9}{BRAF}
\lab{308.6}{958.3}{8}{RAF1}
\lab{352.6}{965.7}{10}{HRAS}
\lab{180.5}{972.7}{14.3}{MEK1/MAP2K1}
\lab{183}{1003.7}{11.5}{MEK2/MAP2K2}
\lab{209.8}{1019.7}{8}{ERK1/MAPK3}
\lab{244.2}{1031}{9.6}{ERK2/MAPK1}
\lab{306.3}{1025.3}{10}{MRAS}
\lab{328.2}{1014.7}{8.5}{KRAS}
\lab{344}{1001.3}{13.5}{NRAS}
\lab{284.9}{1085.7}{8}{ActiveERK\_Module}
\lab{285.6}{1140.7}{13.5}{AP1\_Module}
\lab{267}{1110}{14}{JUNB}
\lab{242.3}{1125.7}{11.5}{JUN}
\lab{309.7}{1117.3}{9.5}{JUND}
\lab{242.3}{1157.3}{15}{FOS}
\lab{266.4}{1172}{14}{FOSB}
\lab{304.8}{1178}{9}{FOSL1}
\lab{324.8}{1160}{11}{FOSL2}
\lab{482}{1143.3}{11}{DownstreamSMAD}
\lab{456.9}{1120}{12.8}{SMAD1}
\lab{507.2}{1122}{9.5}{SMAD2}
\lab{508.7}{1164.7}{9}{SMAD3}
\lab{470.6}{1173.7}{9.5}{SMAD4}
\lab{443.2}{1161}{12}{SMAD5}
\lab{538.6}{942}{11.5}{General\_MAPK\_Inhibitor\_Module}
\lab{543.3}{897.7}{12.5}{RKIP}
\lab{493.1}{905}{12.4}{ERBB2IP}
\lab{585}{908}{13}{RASA1}
\lab{604.1}{922.3}{15}{DUSP6}
\lab{468.5}{921.7}{9.5}{DAB2IP}
\lab{610}{957.3}{8}{RASAL}
\lab{468.5}{966.7}{9.5}{RASAL2/nGAP}
\lab{492.2}{983.7}{10.5}{IMP/BRAP}
\lab{534.9}{978}{7.5}{NF1}
\lab{567.4}{987}{9}{DUSP3}
\lab{656}{982.3}{12.6}{DUSP1}
\lab{656.6}{1009.7}{11}{DUSP2}
\lab{658}{1036}{13.5}{DUSP4}
\lab{656.6}{1069.7}{11.5}{DUSP5}
\lab{772.2}{942}{11.5}{General\_P38\_Inhibitor\_Module}
\lab{705.8}{922.3}{11.8}{DUSP22}
\lab{745.2}{906}{7.5}{DUSP10}
\lab{785.2}{908.3}{7.5}{DUSP8}
\lab{815.8}{919.7}{8}{DUSP16}
\lab{793}{1134}{10}{DownstreamP38}
\lab{686.7}{1110.7}{11}{General\_P38\_CoActivator\_Module}
\lab{686.3}{1092.7}{11}{MAP2K4/MKK4}
\lab{845.5}{1111.7}{11.5}{MAP2K3/MKK3}
\lab{914.2}{1153.7}{10}{MAP2K6/MKK6}
\lab{887.7}{1169.7}{11.5}{MAP3K7/TAK1/MEKK7}
\lab{720.6}{1152.7}{10.8}{MAPK14/P38alpha}
\lab{751.7}{1169.7}{8}{MAPK11/P38Beta}
\lab{811.6}{1181.3}{8}{MAPK12/P38Gamma/ERK3}
\end{axis}
\end{tikzpicture}
\end{document}
